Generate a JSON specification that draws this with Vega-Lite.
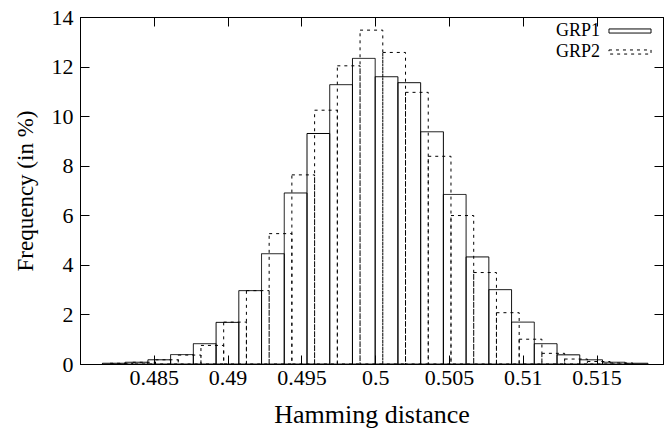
{
  "$schema": "https://vega.github.io/schema/vega-lite/v6.json",
  "width": 583,
  "height": 347,
  "autosize": {"type": "none"},
  "padding": {"left": 80, "top": 17, "right": 1, "bottom": 68},
  "background": "white",
  "config": {
    "view": {"stroke": "black", "strokeWidth": 1},
    "font": "Liberation Serif",
    "axis": {
      "domainColor": "black", "domainWidth": 1,
      "tickColor": "black", "tickWidth": 1, "tickSize": -9,
      "labelColor": "black", "titleColor": "black",
      "labelFont": "Liberation Serif", "titleFont": "Liberation Serif",
      "labelFontSize": 22, "titleFontSize": 24, "titleFontWeight": "normal",
      "grid": false
    },
    "legend": {
      "labelFont": "Liberation Serif", "labelFontSize": 18, "labelColor": "black"
    }
  },
  "data": {
    "values": [
      {"group": "GRP1", "bin_start": 0.48152, "bin_end": 0.48306, "freq": 0.03},
      {"group": "GRP1", "bin_start": 0.48306, "bin_end": 0.4846, "freq": 0.07},
      {"group": "GRP1", "bin_start": 0.4846, "bin_end": 0.48614, "freq": 0.17},
      {"group": "GRP1", "bin_start": 0.48614, "bin_end": 0.48768, "freq": 0.38},
      {"group": "GRP1", "bin_start": 0.48768, "bin_end": 0.48922, "freq": 0.82},
      {"group": "GRP1", "bin_start": 0.48922, "bin_end": 0.49076, "freq": 1.68},
      {"group": "GRP1", "bin_start": 0.49076, "bin_end": 0.4923, "freq": 2.96},
      {"group": "GRP1", "bin_start": 0.4923, "bin_end": 0.49384, "freq": 4.45},
      {"group": "GRP1", "bin_start": 0.49384, "bin_end": 0.49538, "freq": 6.9},
      {"group": "GRP1", "bin_start": 0.49538, "bin_end": 0.49692, "freq": 9.3},
      {"group": "GRP1", "bin_start": 0.49692, "bin_end": 0.49846, "freq": 11.27},
      {"group": "GRP1", "bin_start": 0.49846, "bin_end": 0.5, "freq": 12.33},
      {"group": "GRP1", "bin_start": 0.5, "bin_end": 0.50154, "freq": 11.59},
      {"group": "GRP1", "bin_start": 0.50154, "bin_end": 0.50308, "freq": 11.35},
      {"group": "GRP1", "bin_start": 0.50308, "bin_end": 0.50462, "freq": 9.37},
      {"group": "GRP1", "bin_start": 0.50462, "bin_end": 0.50616, "freq": 6.84},
      {"group": "GRP1", "bin_start": 0.50616, "bin_end": 0.5077, "freq": 4.32},
      {"group": "GRP1", "bin_start": 0.5077, "bin_end": 0.50924, "freq": 3.0},
      {"group": "GRP1", "bin_start": 0.50924, "bin_end": 0.51078, "freq": 1.69},
      {"group": "GRP1", "bin_start": 0.51078, "bin_end": 0.51232, "freq": 0.82},
      {"group": "GRP1", "bin_start": 0.51232, "bin_end": 0.51386, "freq": 0.37},
      {"group": "GRP1", "bin_start": 0.51386, "bin_end": 0.5154, "freq": 0.17},
      {"group": "GRP1", "bin_start": 0.5154, "bin_end": 0.51694, "freq": 0.07},
      {"group": "GRP1", "bin_start": 0.51694, "bin_end": 0.51848, "freq": 0.03},
      {"group": "GRP2", "bin_start": 0.48152, "bin_end": 0.48306, "freq": 0.03},
      {"group": "GRP2", "bin_start": 0.48306, "bin_end": 0.4846, "freq": 0.07},
      {"group": "GRP2", "bin_start": 0.4846, "bin_end": 0.48614, "freq": 0.17},
      {"group": "GRP2", "bin_start": 0.48614, "bin_end": 0.48768, "freq": 0.36},
      {"group": "GRP2", "bin_start": 0.48768, "bin_end": 0.48922, "freq": 0.75},
      {"group": "GRP2", "bin_start": 0.48922, "bin_end": 0.49076, "freq": 1.69},
      {"group": "GRP2", "bin_start": 0.49076, "bin_end": 0.4923, "freq": 2.96},
      {"group": "GRP2", "bin_start": 0.4923, "bin_end": 0.49384, "freq": 5.26},
      {"group": "GRP2", "bin_start": 0.49384, "bin_end": 0.49538, "freq": 7.63},
      {"group": "GRP2", "bin_start": 0.49538, "bin_end": 0.49692, "freq": 10.24},
      {"group": "GRP2", "bin_start": 0.49692, "bin_end": 0.49846, "freq": 12.03},
      {"group": "GRP2", "bin_start": 0.49846, "bin_end": 0.5, "freq": 13.47},
      {"group": "GRP2", "bin_start": 0.5, "bin_end": 0.50154, "freq": 12.57},
      {"group": "GRP2", "bin_start": 0.50154, "bin_end": 0.50308, "freq": 10.96},
      {"group": "GRP2", "bin_start": 0.50308, "bin_end": 0.50462, "freq": 8.38},
      {"group": "GRP2", "bin_start": 0.50462, "bin_end": 0.50616, "freq": 5.99},
      {"group": "GRP2", "bin_start": 0.50616, "bin_end": 0.5077, "freq": 3.69},
      {"group": "GRP2", "bin_start": 0.5077, "bin_end": 0.50924, "freq": 2.07},
      {"group": "GRP2", "bin_start": 0.50924, "bin_end": 0.51078, "freq": 1.0},
      {"group": "GRP2", "bin_start": 0.51078, "bin_end": 0.51232, "freq": 0.43},
      {"group": "GRP2", "bin_start": 0.51232, "bin_end": 0.51386, "freq": 0.2},
      {"group": "GRP2", "bin_start": 0.51386, "bin_end": 0.5154, "freq": 0.1},
      {"group": "GRP2", "bin_start": 0.5154, "bin_end": 0.51694, "freq": 0.04}
    ]
  },
  "layer": [
    {
      "transform": [{"filter": "datum.group === 'GRP1'"}],
      "mark": {"type": "bar", "fill": "transparent", "stroke": "black", "strokeWidth": 1},
      "encoding": {
        "x": {
          "field": "bin_start", "type": "quantitative",
          "scale": {"domain": [0.48, 0.5195], "nice": false, "zero": false},
          "axis": {"orient": "bottom", "values": [0.485, 0.49, 0.495, 0.5, 0.505, 0.51, 0.515], "format": "~g", "title": "Hamming distance", "titleFontSize": 26, "labelPadding": 12, "titlePadding": 13}
        },
        "x2": {"field": "bin_end"},
        "y": {
          "field": "freq", "type": "quantitative",
          "scale": {"domain": [0, 14], "nice": false},
          "axis": {"orient": "left", "values": [0, 2, 4, 6, 8, 10, 12, 14], "format": "d", "title": "Frequency (in %)", "titleFontSize": 23, "labelPadding": 16, "titlePadding": 14}
        },
        "y2": {"datum": 0},
        "strokeDash": {
          "field": "group", "type": "nominal",
          "scale": {"domain": ["GRP1", "GRP2"], "range": [[1, 0], [3, 4]]},
          "legend": {
            "orient": "none", "legendX": 538, "legendY": 2, "title": null, "padding": 0,
            "symbolType": "M-1.86,-0.18H1.86V0.18H-1.86Z", "symbolSize": 511,
            "symbolStrokeColor": "black", "symbolFillColor": "transparent", "symbolStrokeWidth": 1,
            "labelAlign": "right", "labelOffset": -42, "rowPadding": 0
          }
        }
      }
    },
    {
      "transform": [{"filter": "datum.group === 'GRP2'"}],
      "mark": {"type": "bar", "fill": "transparent", "stroke": "black", "strokeWidth": 1, "xOffset": 7.6, "x2Offset": 7.6},
      "encoding": {
        "x": {
          "field": "bin_start", "type": "quantitative",
          "scale": {"domain": [0.48, 0.5195], "nice": false, "zero": false},
          "axis": {"orient": "top", "values": [0.485, 0.49, 0.495, 0.5, 0.505, 0.51, 0.515], "labels": false, "title": null}
        },
        "x2": {"field": "bin_end"},
        "y": {
          "field": "freq", "type": "quantitative",
          "scale": {"domain": [0, 14], "nice": false},
          "axis": {"orient": "right", "values": [0, 2, 4, 6, 8, 10, 12, 14], "labels": false, "title": null}
        },
        "y2": {"datum": 0},
        "strokeDash": {"field": "group", "type": "nominal", "scale": {"domain": ["GRP1", "GRP2"], "range": [[1, 0], [3, 4]]}}
      }
    }
  ]
}
